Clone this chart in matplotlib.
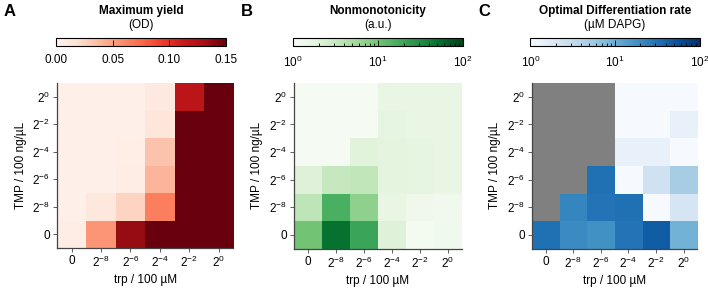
import numpy as np
import matplotlib
matplotlib.use("Agg")
import matplotlib.pyplot as plt
from matplotlib.colors import LogNorm, Normalize

plt.rcParams['font.family'] = ['Liberation Sans', 'DejaVu Sans']
plt.rcParams['mathtext.fontset'] = 'custom'
plt.rcParams['mathtext.rm'] = 'Liberation Sans'
plt.rcParams['mathtext.it'] = 'Liberation Sans'
plt.rcParams['font.size'] = 8.5

trp_labels = ['0', '$2^{-8}$', '$2^{-6}$', '$2^{-4}$', '$2^{-2}$', '$2^{0}$']
tmp_labels = ['0', '$2^{-8}$', '$2^{-6}$', '$2^{-4}$', '$2^{-2}$', '$2^{0}$']

# rows: TMP from 0 (bottom) to 2^0 (top); columns: trp
max_yield = [
    [0.007, 0.055, 0.135, 0.15, 0.15, 0.15],
    [0.005, 0.012, 0.025, 0.065, 0.15, 0.15],
    [0.005, 0.005, 0.007, 0.04, 0.15, 0.15],
    [0.005, 0.005, 0.006, 0.033, 0.15, 0.15],
    [0.005, 0.005, 0.005, 0.013, 0.15, 0.15],
    [0.005, 0.005, 0.005, 0.01, 0.12, 0.15],
]
nonmono = [
    [10, 50, 20, 2.0, 1.15, 1.25],
    [3.6, 16, 7.0, 1.6, 1.3, 1.2],
    [2.0, 3.2, 3.5, 1.8, 1.7, 1.6],
    [1.05, 1.05, 1.9, 1.8, 1.7, 1.6],
    [1.05, 1.05, 1.05, 1.7, 1.6, 1.6],
    [1.05, 1.05, 1.05, 1.6, 1.6, 1.6],
]
nan = np.nan
opt_rate = [
    [32, 20, 18, 30, 45, 9],
    [nan, 22, 30, 32, 1.02, 2.2],
    [nan, nan, 32, 1.02, 2.5, 5.0],
    [nan, nan, nan, 1.4, 1.4, 1.02],
    [nan, nan, nan, 1.02, 1.02, 1.4],
    [nan, nan, nan, 1.02, 1.02, 1.02],
]

panels = [
    ('A', max_yield, 'Reds', Normalize(0, 0.15), 'Maximum yield', '(OD)',
     [0.0805, 0.148, 0.249, 0.567], [0.079, 0.842, 0.240, 0.0275]),
    ('B', nonmono, 'Greens', LogNorm(1, 100), 'Nonmonotonicity', '(a.u.)',
     [0.415, 0.145, 0.237, 0.570], [0.414, 0.842, 0.240, 0.0275]),
    ('C', opt_rate, 'Blues', LogNorm(1, 100), 'Optimal Differentiation rate', '(µM DAPG)',
     [0.751, 0.145, 0.234, 0.570], [0.749, 0.842, 0.239, 0.0275]),
]

fig = plt.figure(figsize=(7.08, 2.91), dpi=100)

for letter, data, cmap_name, norm, title, unit, ax_pos, cb_pos in panels:
    ax = fig.add_axes(ax_pos)
    cmap = plt.get_cmap(cmap_name).copy()
    cmap.set_bad('#808080')
    arr = np.ma.masked_invalid(np.array(data, dtype=float))
    im = ax.imshow(arr, cmap=cmap, norm=norm, origin='lower', aspect='auto',
                   interpolation='nearest')
    ax.set_xticks(range(6))
    ax.set_xticklabels(trp_labels)
    ax.set_yticks(range(6))
    ax.set_yticklabels(tmp_labels)
    ax.set_xlabel('trp / 100 µM', labelpad=3)
    ax.set_ylabel('TMP / 100 ng/µL', labelpad=4)
    for s in ['top', 'right']:
        ax.spines[s].set_visible(False)
    for s in ['left', 'bottom']:
        ax.spines[s].set_color('#444444')
        ax.spines[s].set_linewidth(0.9)
    ax.tick_params(length=3, width=0.6, color='#444444', pad=2)

    cax = fig.add_axes(cb_pos)
    cb = fig.colorbar(im, cax=cax, orientation='horizontal')
    cb.outline.set_linewidth(0.8)
    if isinstance(norm, LogNorm):
        cb.set_ticks([1, 10, 100])
        cb.set_ticklabels(['$10^{0}$', '$10^{1}$', '$10^{2}$'])
    else:
        cb.set_ticks([0, 0.05, 0.10, 0.15])
        cb.set_ticklabels(['0.00', '0.05', '0.10', '0.15'])
    cax.tick_params(which='major', direction='in', length=4, width=0.6, pad=6)
    cax.tick_params(which='minor', direction='in', length=2, width=0.6)
    cax.xaxis.set_ticks_position('bottom')

    cx = cb_pos[0] + cb_pos[2] / 2
    fig.text(cx, 0.962, title, ha='center', va='center', fontweight='bold')
    fig.text(cx, 0.915, unit, ha='center', va='center')
    fig.text(ax_pos[0] - 0.075, 0.962, letter, ha='left', va='center',
             fontweight='bold', fontsize=12)

fig.savefig('out.png', dpi=100)
